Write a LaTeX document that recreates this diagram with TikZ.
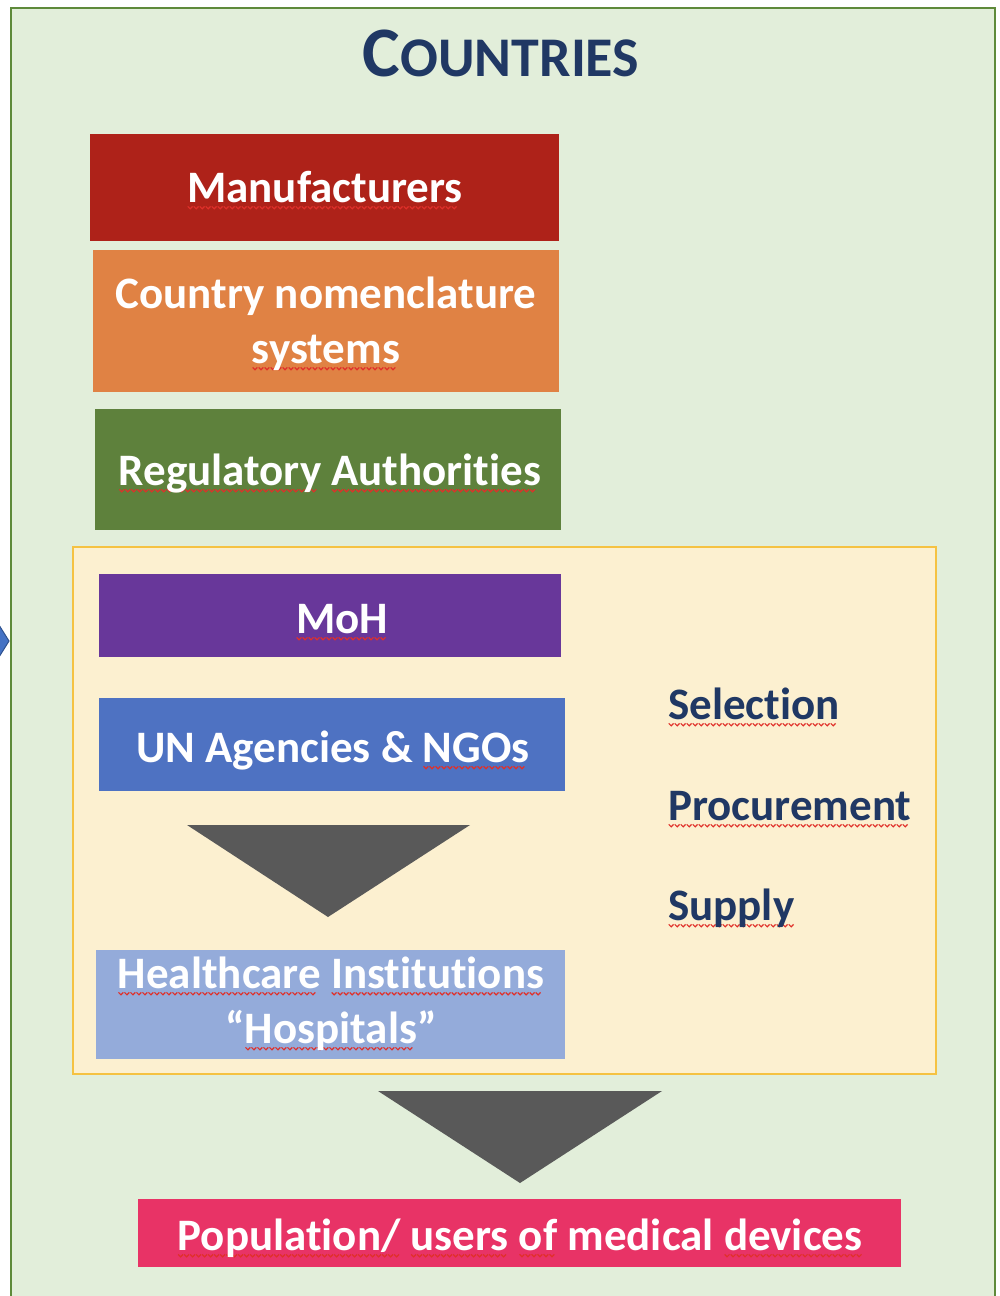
\documentclass[tikz,border=0pt]{standalone}
\usepackage{fontspec}
\setmainfont{Carlito}[Ligatures={TeX,NoCommon}]
\definecolor{gfill}{HTML}{E2EEDA}
\definecolor{gborder}{HTML}{5E8A3A}
\definecolor{navy}{HTML}{203864}
\definecolor{manured}{HTML}{AE2219}
\definecolor{countryor}{HTML}{E08244}
\definecolor{reggreen}{HTML}{5E813C}
\definecolor{yfill}{HTML}{FCF0D0}
\definecolor{yborder}{HTML}{F5C242}
\definecolor{mohpurple}{HTML}{68379A}
\definecolor{unblue}{HTML}{4E72C2}
\definecolor{hospblue}{HTML}{94ABDA}
\definecolor{popred}{HTML}{E83366}
\definecolor{trigrey}{HTML}{595959}
\definecolor{arrblue}{HTML}{4472C4}
\definecolor{arrdark}{HTML}{2F528F}
\definecolor{sqred}{HTML}{E0302A}
\newsavebox\wavebox
\newsavebox\wordbox
\newcommand\sq[1]{\sbox\wordbox{#1}\rlap{\lower7pt\hbox to \wd\wordbox{\leaders\copy\wavebox\hfill}}\usebox\wordbox}
\tikzset{
  boxnode/.style={inner sep=0pt, text=white, align=center,
    font=\fontsize{45}{55}\selectfont\bfseries},
  sidelabel/.style={inner sep=0pt, anchor=base west, text=navy,
    font=\fontsize{45}{55}\selectfont\bfseries},
  tri/.style={fill=trigrey}
}
\begin{document}
\sbox\wavebox{\pgfpicture
\pgfsetbaseline{0pt}%
\pgfsetstrokecolor{sqred}%
\pgfsetlinewidth{1.2pt}%
\pgfpathmoveto{\pgfpoint{0pt}{2.6pt}}%
\pgfpathlineto{\pgfpoint{2.4pt}{0.2pt}}%
\pgfpathlineto{\pgfpoint{4.8pt}{2.6pt}}%
\pgfusepath{stroke}%
\pgfpathrectanglecorners{\pgfpointorigin}{\pgfpoint{4.8pt}{2.8pt}}%
\pgfusepath{use as bounding box}%
\endpgfpicture}%
\begin{tikzpicture}[x=1pt,y=-1pt]
\useasboundingbox (0,0) rectangle (999,1296);
% outer frame
\draw[fill=gfill, draw=gborder, line width=2pt] (11,8) rectangle (995,1320);
% left arrow tip
\fill[arrblue, draw=arrdark, line width=1pt] (-6,617) -- (9,641) -- (-6,665) -- cycle;
% title
\node[inner sep=0pt, anchor=base, text=navy, font=\bfseries] (title) at (501,76)
  {\fontsize{71}{71}\selectfont C\fontsize{56}{56}\selectfont OUNTRIES};
% top boxes
\node[boxnode, fill=manured, minimum width=469pt, minimum height=107pt] (manu) at (324.5,187.5) {};
\node[boxnode, anchor=base] (manut) at (325,202) {\sq{Manufacturers}};
\node[boxnode, fill=countryor, minimum width=466pt, minimum height=142pt] (country) at (326,321) {};
\node[boxnode, anchor=base] (countryt) at (326,363) {Country nomenclature\\\sq{systems}};
\node[boxnode, fill=reggreen, minimum width=466pt, minimum height=121pt] (reg) at (328,469.5) {};
\node[boxnode, anchor=base] (regt) at (330,485) {\sq{Regulatory} \sq{Authorities}};
% yellow box
\draw[fill=yfill, draw=yborder, line width=2pt] (73,547) rectangle (936,1074);
\node[boxnode, fill=mohpurple, minimum width=462pt, minimum height=83pt] (moh) at (330,615.5) {};
\node[boxnode, anchor=base] (moht) at (342,633) {\sq{MoH}};
\node[boxnode, fill=unblue, minimum width=466pt, minimum height=93pt] (un) at (332,744.5) {};
\node[boxnode, anchor=base] (unt) at (333,762) {UN Agencies \& \sq{NGOs}};
\coordinate (t1a) at (187,825);
\coordinate (t1b) at (470,825);
\coordinate (t1c) at (328,917);
\fill[tri] (t1a) -- (t1b) -- (t1c) -- cycle;
\node[boxnode, fill=hospblue, minimum width=469pt, minimum height=109pt] (hosp) at (330.5,1004.5) {};
\node[boxnode, anchor=base] (hospt) at (331,1043) {\sq{Healthcare} \sq{Institutions}\\“\sq{Hospitals}”};
% side labels
\node[sidelabel] (sel) at (668,719) {\sq{Selection}};
\node[sidelabel] (proc) at (668,820) {\sq{Procurement}};
\node[sidelabel] (sup) at (668,920) {\sq{Supply}};
% bottom
\coordinate (t2a) at (378,1091);
\coordinate (t2b) at (662,1091);
\coordinate (t2c) at (520,1183);
\fill[tri] (t2a) -- (t2b) -- (t2c) -- cycle;
\node[boxnode, fill=popred, minimum width=763pt, minimum height=68pt] (pop) at (519.5,1233) {};
\node[boxnode, anchor=base] (popt) at (520,1250) {\sq{Population/} \sq{users} \sq{of} medical \sq{devices}};
\end{tikzpicture}
\end{document}
